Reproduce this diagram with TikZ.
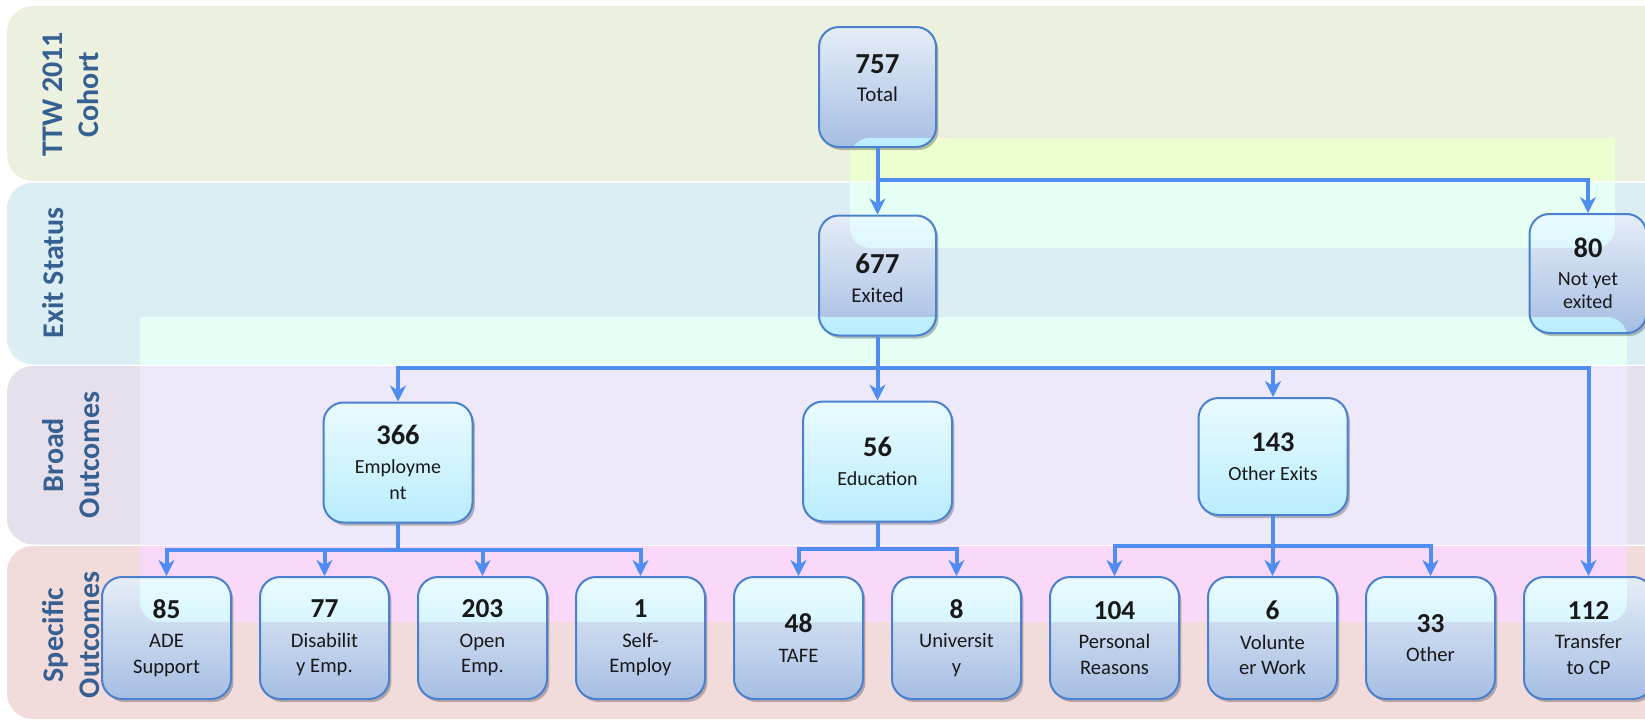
\documentclass[tikz,border=0pt]{standalone}
\usepackage{fontspec}
\setmainfont{Carlito}
\usetikzlibrary{arrows.meta,shadows}
\definecolor{bandA}{RGB}{235,241,222}
\definecolor{bandB}{RGB}{219,238,244}
\definecolor{bandC}{RGB}{230,224,236}
\definecolor{bandD}{RGB}{242,220,219}
\definecolor{ovA}{RGB}{237,255,208}
\definecolor{ovB}{RGB}{230,255,245}
\definecolor{ovC}{RGB}{238,232,251}
\definecolor{ovD}{RGB}{249,216,249}
\definecolor{labblue}{RGB}{55,96,146}
\definecolor{ntop}{RGB}{229,237,248}
\definecolor{nbot}{RGB}{166,190,227}
\definecolor{ctop}{RGB}{234,251,255}
\definecolor{cbot}{RGB}{185,237,255}
\definecolor{nborder}{RGB}{74,128,204}
\definecolor{conncol}{RGB}{79,141,240}
\definecolor{ntext}{RGB}{25,25,25}
\begin{document}
\begin{tikzpicture}[x=0.5pt,y=-0.5pt,
  ovpic/.style={path picture={
    \begin{scope}
      \clip (ov1a) rectangle (ov1b) (ov2a) rectangle (ov2b);
      \shade[top color=ctop,bottom color=cbot]
        (path picture bounding box.north west) rectangle (path picture bounding box.south east);
    \end{scope}}},
  boxbase/.style={draw=nborder, line width=1pt, rounded corners=10pt,
    top color=ntop, bottom color=nbot, align=center, inner sep=0pt, text=ntext,
    drop shadow={shadow xshift=1.2pt, shadow yshift=-1.5pt, opacity=0.25, fill=black},
    ovpic},
  topbox/.style={boxbase, minimum width=58.5pt, minimum height=60pt,
    font=\fontsize{10.5}{14}\selectfont},
  nybox/.style={boxbase, minimum width=58.5pt, minimum height=59.5pt,
    font=\fontsize{10}{11.5}\selectfont},
  broadbox/.style={boxbase, minimum width=74.5pt, minimum height=60pt,
    font=\fontsize{10}{13}\selectfont},
  specbox/.style={boxbase, minimum width=64.5pt, minimum height=61pt,
    font=\fontsize{10.3}{12.8}\selectfont},
  bandlab/.style={rotate=90, align=center, text=labblue,
    font=\fontsize{15}{18}\selectfont\bfseries, inner sep=0pt},
  arrowline/.style={draw=conncol, line width=2pt, line join=miter,
    -{Stealth[length=8pt,width=8pt,inset=2.5pt]}},
  plainline/.style={draw=conncol, line width=2pt, line join=miter}
]
\clip (0,0) rectangle (1645,723);
% bands
\fill[bandA, rounded corners=13pt] (7,6) rectangle (1720,181);
\fill[bandB, rounded corners=13pt] (7,182.5) rectangle (1720,364.5);
\fill[bandC, rounded corners=13pt] (7,366) rectangle (1720,544.5);
\fill[bandD, rounded corners=13pt] (7,546) rectangle (1720,719);
% highlight overlays
\coordinate (ov1a) at (850,138);
\coordinate (ov1b) at (1615,248);
\coordinate (ov2a) at (140,317);
\coordinate (ov2b) at (1627,622);
\fill[ovA] (850,138) rectangle (1615,181);
\fill[ovB] (850,182.5) rectangle (1615,248);
\fill[ovB] (140,317) rectangle (1627,364.5);
\fill[ovC] (140,366) rectangle (1627,544.5);
\fill[ovD] (140,546) rectangle (1627,622);
% band labels
\node[bandlab] (labA) at (71,94.5) {TTW 2011\\Cohort};
\node[bandlab] (labB) at (53,273) {Exit Status};
\node[bandlab] (labC) at (71,455) {Broad\\Outcomes};
\node[bandlab] (labD) at (71,635) {Specific\\Outcomes};
% top levels
\node[topbox] (total) at (877.5,87) {{\fontsize{14.5}{14}\selectfont\bfseries 757}\\Total\\[-5pt]\mbox{}};
\node[topbox] (exited) at (877.5,275.5) {{\fontsize{14.5}{14}\selectfont\bfseries\rule{0pt}{12.5pt}677}\\[0.4pt]Exited};
\node[nybox] (notyet) at (1588,273.5) {{\fontsize{14.2}{14}\selectfont\bfseries 80}\\[2.3pt]Not yet\\exited};
% broad outcomes
\node[broadbox] (emp) at (398,462.5) {{\fontsize{14.2}{14}\selectfont\bfseries 366}\\[1.5pt]Employme\\nt};
\node[broadbox] (edu) at (877.5,461.5) {{\fontsize{14.2}{14}\selectfont\bfseries 56}\\[1.5pt]Education};
\node[broadbox, minimum height=58.5pt] (oth) at (1273,456.5) {{\fontsize{14.2}{14}\selectfont\bfseries 143}\\[1.5pt]Other Exits};
% specific outcomes
\newcommand{\numtxt}[1]{{\fontsize{13.7}{14}\selectfont\bfseries #1}}
\node[specbox] (ade) at (166.5,638) {\numtxt{85}\\[1.8pt]ADE\\Support};
\node[specbox] (dis) at (324.5,638) {\numtxt{77}\\[1.8pt]Disabilit\\y Emp.};
\node[specbox] (open) at (482.5,638) {\numtxt{203}\\[1.8pt]Open\\Emp.};
\node[specbox] (self) at (640.5,638) {\numtxt{1}\\[1.8pt]Self-\\Employ};
\node[specbox] (tafe) at (798.5,638) {\numtxt{48}\\[1.8pt]TAFE};
\node[specbox] (uni) at (956.5,638) {\numtxt{8}\\[1.8pt]Universit\\y};
\node[specbox] (pers) at (1114.5,638) {\numtxt{104}\\[1.8pt]Personal\\Reasons};
\node[specbox] (vol) at (1272.5,638) {\numtxt{6}\\[1.8pt]Volunte\\er Work};
\node[specbox] (other) at (1430.5,638) {\numtxt{33}\\[1.8pt]Other};
\node[specbox] (trans) at (1588.5,638) {\numtxt{112}\\[1.8pt]Transfer\\to CP};
% connectors
\coordinate (b1) at (877.5,180);
\draw[arrowline] (total.south) -- (exited.north);
\draw[arrowline] (b1) -| (notyet.north);
\coordinate (b2) at (877.5,368);
\draw[arrowline] (exited.south) -- (edu.north);
\draw[arrowline] (b2) -| (emp.north);
\draw[arrowline] (b2) -| (oth.north);
\draw[arrowline] (b2) -| (trans.north);
\coordinate (b3) at (398,550);
\draw[plainline] (emp.south) -- (b3);
\draw[arrowline] (b3) -| (ade.north);
\draw[arrowline] (b3) -| (dis.north);
\draw[arrowline] (b3) -| (open.north);
\draw[arrowline] (b3) -| (self.north);
\coordinate (b4) at (877.5,549);
\draw[plainline] (edu.south) -- (b4);
\draw[arrowline] (b4) -| (tafe.north);
\draw[arrowline] (b4) -| (uni.north);
\coordinate (b5) at (1273,546);
\draw[plainline] (oth.south) -- (b5);
\draw[arrowline] (b5) -| (pers.north);
\draw[arrowline] (b5) -| (vol.north);
\draw[arrowline] (b5) -| (other.north);
\end{tikzpicture}
\end{document}
